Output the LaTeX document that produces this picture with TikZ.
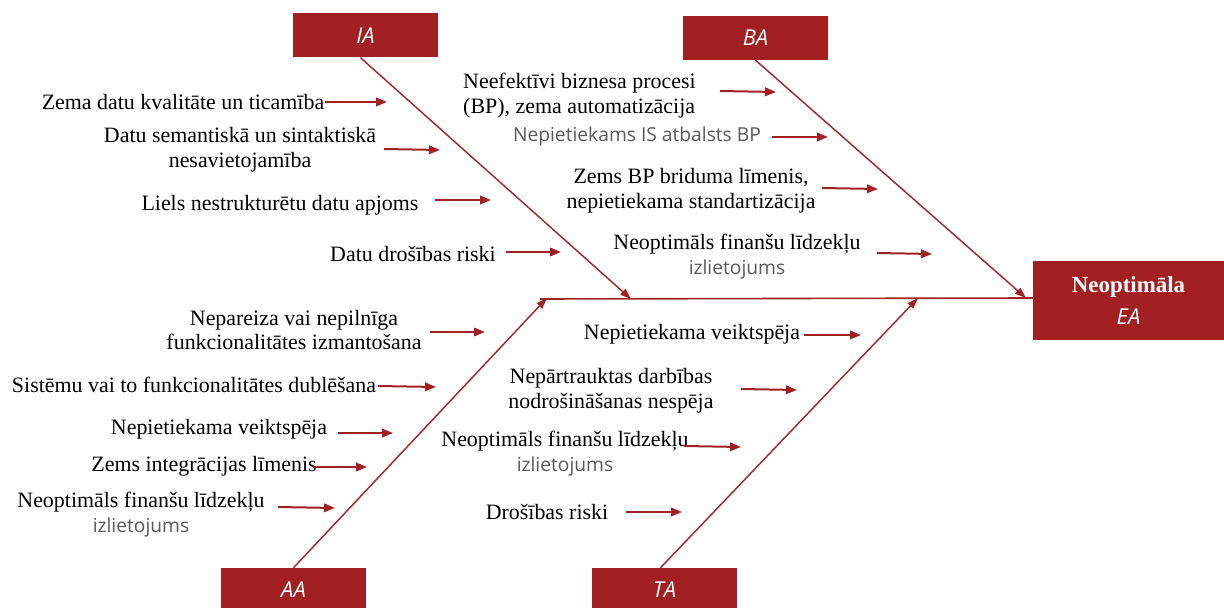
\documentclass[tikz,border=0pt]{standalone}
\usepackage{fontspec}
\setmainfont{Liberation Serif}
\newfontfamily\sansf{Open Sans}
\usetikzlibrary{arrows.meta}
\definecolor{fbred}{HTML}{A21F22}
\definecolor{txtgray}{HTML}{595959}
\begin{document}
\begin{tikzpicture}[x=1bp,y=-1bp,
  catbox/.style={fill=fbred,draw=none,minimum width=145bp,minimum height=44bp,inner sep=0,
     text=white,font=\sansf\itshape\fontsize{22}{25}\selectfont},
  lbl/.style={font=\fontsize{22}{25}\selectfont,align=center,inner sep=0,text=black},
  glbl/.style={font=\sansf\fontsize{19.3}{24}\selectfont,inner sep=0,text=txtgray},
  bone/.style={draw=fbred,line width=1.4bp,-{Triangle[length=11bp,width=7.5bp]}},
  cause/.style={draw=fbred,line width=2bp,-{Triangle[length=11bp,width=8.5bp]}},
  spine/.style={draw=fbred,line width=1.6bp}]
\useasboundingbox (0,0) rectangle (1224,608);
\newcommand{\gry}[1]{{\sansf\fontsize{19.3}{24}\selectfont\color{txtgray}#1}}

% category boxes
\node[catbox] (ia) at (365.5,35.5) {IA};
\node[catbox] (ba) at (755.5,38) {BA};
\node[catbox] (aa) at (293.5,590) {AA};
\node[catbox] (ta) at (664.5,590) {TA};
\node[fill=fbred,minimum width=191bp,minimum height=79bp,inner sep=0,text=white,align=center]
  (ea) at (1128.5,300.5) {\fontsize{23}{26}\selectfont\bfseries Neoptimāla\\[10bp]{\sansf\itshape\fontsize{22}{25}\selectfont EA}};

% spine
\coordinate (spL) at (540,299);
\coordinate (spR) at (1033,298);
\draw[spine] (spL) -- (spR);

% bones
\coordinate (iaT) at (631,299);
\coordinate (baT) at (1026,298);
\coordinate (aaT) at (547,298);
\coordinate (taT) at (918,298);
\draw[bone] ([xshift=-5bp]ia.south) -- (iaT);
\draw[bone] (ba.south) -- (baT);
\draw[bone] (aa.north) -- (aaT);
\draw[bone] ([xshift=-4bp]ta.north) -- (taT);

% IA causes
\node[lbl] (l1) at (183,102) {Zema datu kvalitāte un ticamība};
\node[lbl] (l2) at (240,150) {Datu semantiskā un sintaktiskā\\nesavietojamība};
\node[lbl] (l3) at (280,205) {Liels nestrukturētu datu apjoms};
\node[lbl] (l4) at (413,254) {Datu drošības riski};
\coordinate (l1a) at (325,102); \coordinate (l1b) at (387,102);
\coordinate (l2a) at (384,149); \coordinate (l2b) at (440,150);
\coordinate (l3a) at (435,200); \coordinate (l3b) at (491,200);
\coordinate (l4a) at (506,252); \coordinate (l4b) at (561,252);
\draw[cause] (l1a) -- (l1b);
\draw[cause] (l2a) -- (l2b);
\draw[cause] (l3a) -- (l3b);
\draw[cause] (l4a) -- (l4b);

% BA causes
\node[lbl,align=left,anchor=west] (r1) at (463,96) {Neefektīvi biznesa procesi\\(BP), zema automatizācija};
\node[glbl] (r2) at (637,137) {Nepietiekams IS atbalsts BP};
\node[lbl] (r3) at (691,191) {Zems BP briduma līmenis,\\nepietiekama standartizācija};
\node[lbl] (r4) at (737,257) {Neoptimāls finanšu līdzekļu\\\gry{izlietojums}};
\coordinate (r1a) at (720,91);  \coordinate (r1b) at (776,92);
\coordinate (r2a) at (772,137); \coordinate (r2b) at (828,137);
\coordinate (r3a) at (822,188); \coordinate (r3b) at (878,189);
\coordinate (r4a) at (877,253); \coordinate (r4b) at (932,254);
\draw[cause] (r1a) -- (r1b);
\draw[cause] (r2a) -- (r2b);
\draw[cause] (r3a) -- (r3b);
\draw[cause] (r4a) -- (r4b);

% AA causes
\node[lbl] (a1) at (294,330) {Nepareiza vai nepilnīga\\funkcionalitātes izmantošana};
\node[lbl] (a2) at (194,385) {Sistēmu vai to funkcionalitātes dublēšana};
\node[lbl] (a3) at (219,429) {Nepietiekama veiktspēja};
\node[lbl] (a4) at (204,466) {Zems integrācijas līmenis};
\node[lbl] (a5) at (141,515) {Neoptimāls finanšu līdzekļu\\\gry{izlietojums}};
\coordinate (a1a) at (430,332); \coordinate (a1b) at (485,332);
\coordinate (a2a) at (378,386); \coordinate (a2b) at (436,387);
\coordinate (a3a) at (338,433); \coordinate (a3b) at (393,433);
\coordinate (a4a) at (313,467); \coordinate (a4b) at (367,467);
\coordinate (a5a) at (278,507); \coordinate (a5b) at (335,508);
\draw[cause] (a1a) -- (a1b);
\draw[cause] (a2a) -- (a2b);
\draw[cause] (a3a) -- (a3b);
\draw[cause] (a4a) -- (a4b);
\draw[cause] (a5a) -- (a5b);

% TA causes
\node[lbl] (t1) at (692,334) {Nepietiekama veiktspēja};
\node[lbl] (t2) at (611,391) {Nepārtrauktas darbības\\nodrošināšanas nespēja};
\node[lbl] (t3) at (565,454) {Neoptimāls finanšu līdzekļu\\\gry{izlietojums}};
\node[lbl] (t4) at (547,512) {Drošības riski};
\coordinate (t1a) at (804,335); \coordinate (t1b) at (861,335);
\coordinate (t2a) at (741,389); \coordinate (t2b) at (797,390);
\coordinate (t3a) at (684,446); \coordinate (t3b) at (741,447);
\coordinate (t4a) at (626,512); \coordinate (t4b) at (682,512);
\draw[cause] (t1a) -- (t1b);
\draw[cause] (t2a) -- (t2b);
\draw[cause] (t3a) -- (t3b);
\draw[cause] (t4a) -- (t4b);
\end{tikzpicture}
\end{document}
